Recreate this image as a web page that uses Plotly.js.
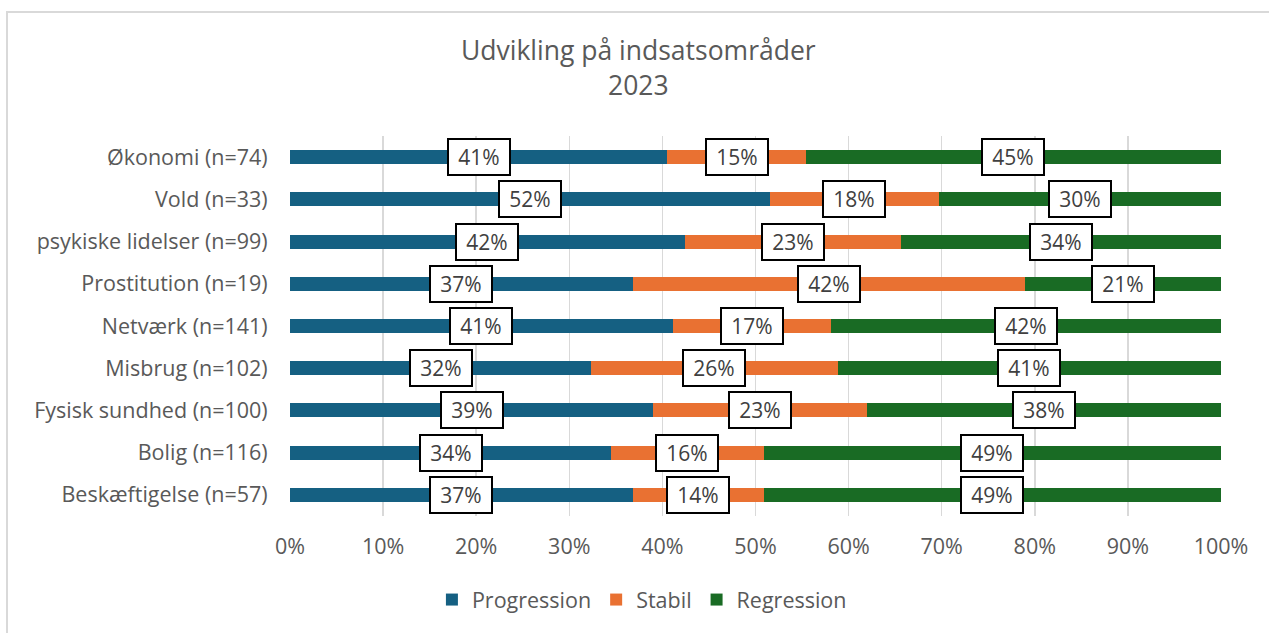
<!DOCTYPE html>
<html>
<head>
<meta charset="utf-8">
<script src="https://cdn.plot.ly/plotly-3.0.1.min.js"></script>
<style>
  html, body { margin: 0; padding: 0; background: #fff; }
  #wrap { position: relative; width: 1269px; height: 633px; overflow: hidden; }
  #frame { position: absolute; left: 6px; top: 11px; width: 1300px; height: 700px;
           border-top: 2px solid #d9d9d9; border-left: 2px solid #d9d9d9; pointer-events: none; }
  #chart { position: absolute; left: 0; top: 0; width: 1269px; height: 633px; }
</style>
</head>
<body>
<div id="wrap">
  <div id="chart"></div>
  <div id="frame"></div>
</div>
<script>
const categories = [
  "Økonomi (n=74)",
  "Vold (n=33)",
  "psykiske lidelser (n=99)",
  "Prostitution (n=19)",
  "Netværk (n=141)",
  "Misbrug (n=102)",
  "Fysisk sundhed (n=100)",
  "Bolig (n=116)",
  "Beskæftigelse (n=57)"
];
const progression = [40.54, 51.52, 42.42, 36.84, 41.13, 32.35, 39.00, 34.48, 36.84];
const stabil      = [14.86, 18.18, 23.23, 42.11, 17.02, 26.47, 23.00, 16.38, 14.04];
const regression  = [44.59, 30.30, 34.34, 21.05, 41.84, 41.18, 38.00, 49.14, 49.12];
const seriesNames = ["Progression", "Stabil", "Regression"];
const seriesColors = ["#156082", "#E97132", "#196B24"];
const xTickVals = [0, 10, 20, 30, 40, 50, 60, 70, 80, 90, 100];
const xTickText = ["0%", "10%", "20%", "30%", "40%", "50%", "60%", "70%", "80%", "90%", "100%"];

const FONT = "Open Sans, Noto Sans, sans-serif";
const allSeries = [progression, stabil, regression];

const traces = allSeries.map((vals, i) => ({
  type: "bar",
  orientation: "h",
  name: seriesNames[i],
  y: categories,
  x: vals,
  marker: { color: seriesColors[i], line: { width: 0 } },
  hoverinfo: "x+y+name"
}));

const annotations = [];
categories.forEach((cat, ci) => {
  let base = 0;
  allSeries.forEach((vals) => {
    const v = vals[ci];
    annotations.push({
      x: base + v / 2, y: cat, xref: "x", yref: "y",
      text: Math.round(v) + "%",
      showarrow: false,
      font: { family: FONT, size: 21, color: "#404040" },
      bgcolor: "#ffffff",
      bordercolor: "#000000",
      borderwidth: 2,
      borderpad: 2,
      width: 56,
      height: 30,
      align: "center",
      valign: "middle"
    });
    base += v;
  });
});

const layout = {
  width: 1269,
  height: 633,
  paper_bgcolor: "rgba(0,0,0,0)",
  plot_bgcolor: "#ffffff",
  barmode: "stack",
  bargap: 0.67,
  margin: { l: 290, r: 48, t: 136, b: 117 },
  title: {
    text: "Udvikling på indsatsområder<br>2023",
    x: 0.503, xref: "container", xanchor: "center",
    y: 0.905, yref: "container", yanchor: "top",
    font: { family: FONT, size: 26.5, color: "#595959" }
  },
  xaxis: {
    range: [0, 100],
    tickvals: xTickVals,
    ticktext: xTickText,
    showgrid: true,
    gridcolor: "#d9d9d9",
    gridwidth: 1.5,
    zeroline: false,
    showline: false,
    ticks: "outside",
    ticklen: 11,
    tickcolor: "rgba(0,0,0,0)",
    tickfont: { family: FONT, size: 21.5, color: "#595959" },
    fixedrange: true
  },
  yaxis: {
    type: "category",
    autorange: "reversed",
    showgrid: false,
    zeroline: false,
    showline: false,
    ticks: "outside",
    ticklen: 17,
    tickcolor: "rgba(0,0,0,0)",
    tickfont: { family: FONT, size: 21.5, color: "#595959" },
    fixedrange: true
  },
  showlegend: true,
  legend: {
    orientation: "h",
    x: 0.378, xanchor: "center",
    y: -0.166, yanchor: "top",
    font: { family: FONT, size: 21.5, color: "#595959" },
    traceorder: "normal",
    itemwidth: 30
  },
  annotations: annotations
};

Plotly.newPlot("chart", traces, layout, { displayModeBar: false, staticPlot: true });
</script>
</body>
</html>
